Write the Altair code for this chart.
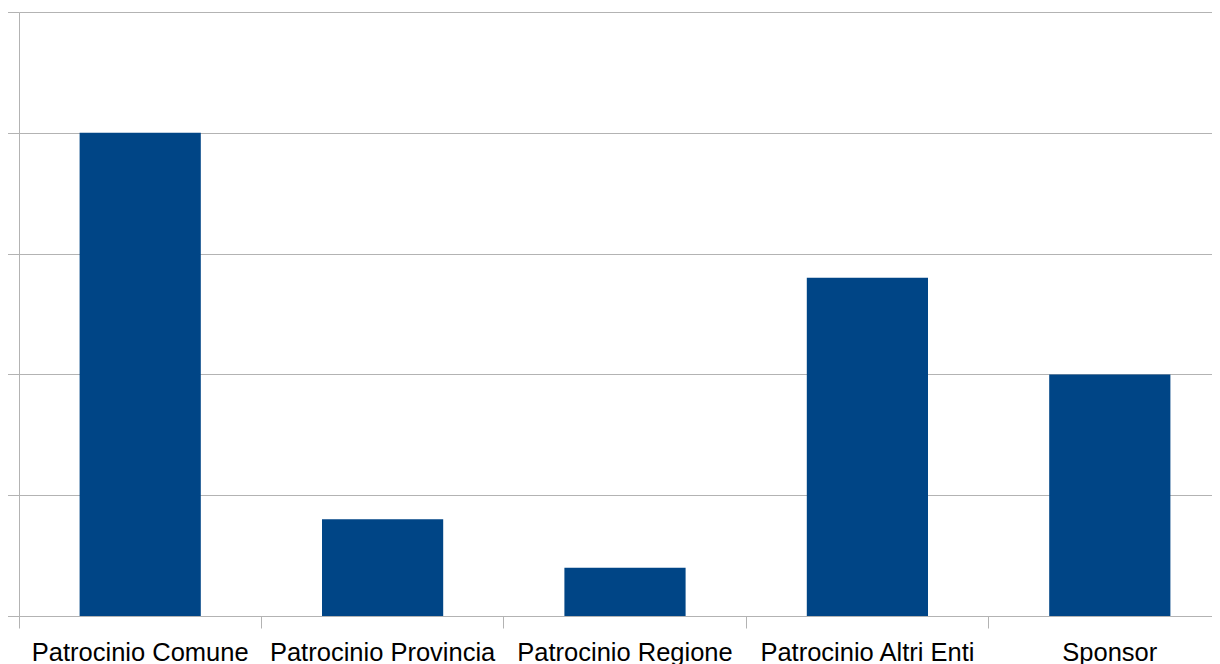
import altair as alt
import pandas as pd

categories = ["Patrocinio Comune", "Patrocinio Provincia", "Patrocinio Regione", "Patrocinio Altri Enti", "Sponsor"]
values = [20, 4, 2, 14, 10]
y_ticks = [0, 5, 10, 15, 20, 25]

df = pd.DataFrame({"cat": categories, "val": values})

grey = "#b3b3b3"

chart = alt.Chart(df).mark_bar(color="#004586").encode(
    x=alt.X("cat:N", sort=categories, title=None,
            scale=alt.Scale(paddingInner=0.5, paddingOuter=0.25, range=[0, 1212]),
            axis=alt.Axis(labelAngle=0, labelFont="Liberation Sans", labelFontSize=25.5,
                          labelColor="#000000", tickSize=12, tickColor=grey, domainColor=grey,
                          bandPosition=-0.5, labelPadding=12, grid=False, labelLimit=400)),
    y=alt.Y("val:Q", title=None, scale=alt.Scale(domain=[0, 25], nice=False),
            axis=alt.Axis(values=y_ticks, labels=False, tickSize=12, tickColor=grey,
                          domainColor=grey, grid=True, gridColor=grey)),
).properties(
    width=1193, height=604,
    autosize=alt.AutoSizeParams(type="none"),
    padding={"left": 11, "top": 4, "right": 0, "bottom": 48},
).configure_view(stroke=None, clip=False).configure_axis(domainWidth=1, tickWidth=1, gridWidth=1)

chart.save("out.html", embed_options={"renderer": "svg", "actions": False})
